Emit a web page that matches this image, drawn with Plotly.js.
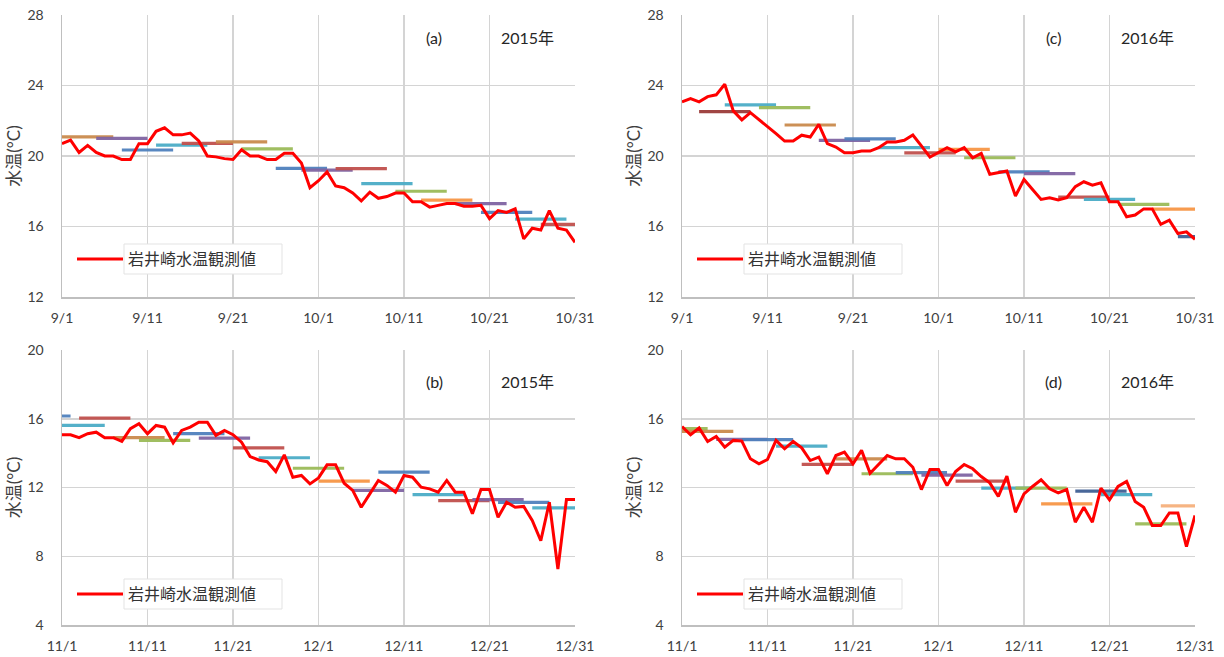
<!DOCTYPE html>
<html><head><meta charset="utf-8">
<script src="https://cdn.plot.ly/plotly-3.0.1.min.js"></script>
<style>html,body{margin:0;padding:0;background:#fff}#chart{width:1224px;height:657px}</style>
</head><body><div id="chart"></div>
<script>
// ---------- data ----------
const ticksSepOct = ["9/1","9/11","9/21","10/1","10/11","10/21","10/31"];
const ticksNovDec = ["11/1","11/11","11/21","12/1","12/11","12/21","12/31"];
const tickDays = [0,10,20,30,40,50,60];
const obsName = "岩井崎水温観測値";
const yTitle = "水温(°C)";
const panelLabels = ["(a)","(b)","(c)","(d)"];
const yearLabels = ["2015年","2015年","2016年","2016年"];

// daily observed water temperature (day 0 = first day of the period)
const obsA = [20.7,20.9,20.2,20.6,20.2,20.0,20.0,19.8,19.8,20.7,
  20.7,21.4,21.6,21.2,21.2,21.3,20.85,20.0,19.95,19.85,
  19.8,20.35,20.0,20.0,19.8,19.8,20.15,20.15,19.6,18.2,
  18.6,19.1,18.3,18.2,17.9,17.45,17.95,17.6,17.7,17.9,
  17.9,17.4,17.4,17.1,17.2,17.3,17.3,17.15,17.15,17.2,
  16.45,16.9,16.8,17.0,15.3,15.9,15.8,16.9,15.9,15.8,15.1];
const obsB = [15.07,15.07,14.9,15.13,15.22,14.9,14.9,14.68,15.42,15.71,
  15.13,15.61,15.51,14.6,15.32,15.51,15.8,15.8,15.03,15.32,
  15.07,14.64,13.8,13.6,13.5,12.93,13.9,12.6,12.7,12.21,
  12.56,13.32,13.32,12.25,11.83,10.85,11.63,12.41,12.12,11.73,
  12.7,12.6,12.02,11.92,11.73,12.41,11.73,11.73,10.47,11.88,
  11.88,10.27,11.14,10.85,10.9,10.08,8.9,11.14,7.26,11.3,11.3];
const obsC = [23.07,23.26,23.07,23.37,23.47,24.07,22.56,22.05,22.46,22.08,
  21.7,21.27,20.85,20.85,21.18,21.08,21.8,20.7,20.51,20.19,
  20.19,20.28,20.28,20.47,20.8,20.8,20.89,21.19,20.57,19.94,
  20.2,20.47,20.23,20.47,19.9,20.15,18.96,19.05,19.15,17.73,
  18.67,18.1,17.54,17.63,17.5,17.63,18.26,18.54,18.35,18.48,
  17.4,17.4,16.55,16.65,17.0,17.0,16.12,16.36,15.6,15.7,15.27];
const obsD = [15.55,15.07,15.46,14.68,14.97,14.35,14.74,14.7,13.67,13.38,
  13.63,14.74,14.25,14.68,14.31,13.57,13.77,12.8,13.86,14.06,
  13.38,14.16,12.83,13.32,13.86,13.67,13.67,13.18,11.88,13.05,
  13.05,12.12,12.93,13.34,13.09,12.64,12.27,11.48,12.66,10.56,
  11.63,12.06,12.45,11.92,11.69,11.88,9.98,10.85,9.98,11.96,
  11.28,12.06,12.35,11.18,10.85,9.79,9.79,10.52,10.52,8.56,10.37];

// forecast segments: start day, end day, forecast value
const fcStartA = [0,4,7,11,14,18,21,25,28,32,35,39,42,46,49,53,56,60];
const fcEndA   = [6,10,13,17,20,24,27,31,34,38,41,45,48,52,55,59,62,66];
const fcValA   = [21.08,21.0,20.34,20.62,20.72,20.8,20.4,19.3,19.2,19.28,18.43,18.0,17.5,17.3,16.8,16.42,16.12,15.64];

const fcStartB = [-5,-1,2,6,9,13,16,20,23,27,30,34,37,41,44,48,51,55];
const fcEndB   = [1,5,8,12,15,19,22,26,29,33,36,40,43,47,50,54,57,61];
const fcValB   = [16.16,15.61,16.04,14.9,14.74,15.13,14.87,14.3,13.73,13.12,12.37,11.83,12.89,11.59,11.24,11.3,11.14,10.82];

const fcStartC = [2,5,9,12,16,19,23,26,30,33,37,40,44,47,51,55,58];
const fcEndC   = [8,11,15,18,22,25,29,32,36,39,43,46,50,53,57,61,64];
const fcValC   = [22.52,22.9,22.74,21.76,20.89,20.97,20.47,20.18,20.38,19.9,19.1,19.0,17.67,17.54,17.26,16.99,15.42];

const fcStartD = [-3,0,4,7,11,14,18,21,25,28,32,35,39,42,46,49,53,56];
const fcEndD   = [3,6,10,13,17,20,24,27,31,34,38,41,45,48,52,55,59,62];
const fcValD   = [15.42,15.26,14.8,14.78,14.41,13.34,13.67,12.8,12.86,12.72,12.37,11.96,11.96,11.05,11.79,11.59,9.88,10.93];

// ---------- styles ----------
const PAL = {blue:"#4f81bd", navy:"#3f5f93", purple:"#8064a2", teal:"#4bacc6", red:"#c0504d",
             maroon:"#9b3b39", orange:"#f79646", tan:"#c98a4d", green:"#9bbb59", lorange:"#f6b07c"};
const colA = ["tan","purple","blue","teal","red","tan","green","blue","purple","red","teal","green","orange","purple","blue","teal","red","purple"];
const colB = ["blue","teal","red","tan","green","blue","purple","red","teal","green","orange","purple","blue","teal","red","purple","blue","teal"];
const colC = ["maroon","teal","green","tan","purple","blue","teal","red","orange","green","blue","purple","red","teal","green","orange","navy"];
const colD = ["green","tan","purple","blue","teal","red","tan","green","blue","purple","red","teal","green","orange","navy","teal","green","lorange"];

const FONT = "Lato, 'Noto Sans CJK JP', sans-serif";
const panels = [
  {obs:obsA, s:fcStartA, e:fcEndA, v:fcValA, c:colA, ax:"", ticks:ticksSepOct, yr:[12,28], lg:"legend"},
  {obs:obsB, s:fcStartB, e:fcEndB, v:fcValB, c:colB, ax:"2", ticks:ticksNovDec, yr:[4,20], lg:"legend2"},
  {obs:obsC, s:fcStartC, e:fcEndC, v:fcValC, c:colC, ax:"3", ticks:ticksSepOct, yr:[12,28], lg:"legend3"},
  {obs:obsD, s:fcStartD, e:fcEndD, v:fcValD, c:colD, ax:"4", ticks:ticksNovDec, yr:[4,20], lg:"legend4"}
];

const W = 1224, H = 657;
const xDom = [[62/W, 575/W],[62/W, 575/W],[682/W, 1195/W],[682/W, 1195/W]];
const yDom = [[1-297/H, 1-15/H],[1-625/H, 1-350/H],[1-297/H, 1-15/H],[1-625/H, 1-350/H]];
const legMidY = [259, 594, 259, 594];
const legLeft = [72, 72, 692, 692];
const boxX = [[124,282],[124,282],[744,902],[744,902]];
const boxY = [[244,274],[579,609],[244,274],[579,609]];
const lblY = [37, 381, 37, 381];
const lblX1 = [434, 434, 1053, 1053];
const lblX2 = [527, 527, 1147, 1147];

const traces = [];
const layout = {
  width: W, height: H, margin:{l:0,r:0,t:0,b:0},
  paper_bgcolor:"#fff", plot_bgcolor:"#fff",
  font:{family:FONT, size:14, color:"#404040"},
  annotations: [], shapes: []
};

panels.forEach((p, i) => {
  const xa = "x"+p.ax, ya = "y"+p.ax;
  p.s.forEach((s, k) => {
    traces.push({type:"scatter", mode:"lines", x:[s, p.e[k]], y:[p.v[k], p.v[k]],
      xaxis:xa, yaxis:ya, showlegend:false, hoverinfo:"skip",
      line:{color:PAL[p.c[k]], width:3.2}, opacity:0.95});
  });
  traces.push({type:"scatter", mode:"lines", name:obsName,
    x:p.obs.map((_, d) => d), y:p.obs, xaxis:xa, yaxis:ya,
    legend:p.lg, showlegend:true, line:{color:"#ff0000", width:3}});

  layout["xaxis"+p.ax] = {domain:xDom[i], anchor:ya, range:[0,60], tickmode:"array",
    tickvals:tickDays, ticktext:p.ticks, showgrid:true, gridcolor:"#d4d4d4", gridwidth:1.5,
    showline:true, linecolor:"#bfbfbf", linewidth:1.5, zeroline:false, ticks:"",
    ticklabelstandoff:8, tickfont:{size:14, color:"#404040", family:FONT}, fixedrange:true};
  layout["yaxis"+p.ax] = {domain:yDom[i], anchor:xa, range:p.yr, dtick:4, tick0:0,
    showgrid:true, gridcolor:"#d4d4d4", gridwidth:1.5, showline:true, linecolor:"#bfbfbf",
    linewidth:1.5, zeroline:false, ticks:"", ticklabelstandoff:14,
    tickfont:{size:14, color:"#404040", family:FONT},
    title:{text:yTitle, font:{size:17, color:"#404040", family:FONT}, standoff:2}, fixedrange:true};

  layout[p.lg] = {x:legLeft[i]/W, y:1-legMidY[i]/H, xanchor:"left", yanchor:"middle",
    bgcolor:"rgba(0,0,0,0)", borderwidth:0, font:{size:16, color:"#333333", family:FONT},
    itemwidth:46};

  layout.shapes.push({type:"rect", xref:"paper", yref:"paper", layer:"above",
    x0:boxX[i][0]/W, x1:boxX[i][1]/W, y0:1-boxY[i][1]/H, y1:1-boxY[i][0]/H,
    fillcolor:"#ffffff", line:{color:"#e3e3e3", width:1}});

  layout.annotations.push({xref:"paper", yref:"paper", x:lblX1[i]/W, y:1-lblY[i]/H,
    text:panelLabels[i], showarrow:false, xanchor:"center", yanchor:"middle",
    font:{size:16, color:"#262626", family:FONT}});
  layout.annotations.push({xref:"paper", yref:"paper", x:lblX2[i]/W, y:1-lblY[i]/H,
    text:yearLabels[i], showarrow:false, xanchor:"center", yanchor:"middle",
    font:{size:16, color:"#262626", family:FONT}});
});

Plotly.newPlot("chart", traces, layout, {displayModeBar:false, staticPlot:true});
</script></body></html>
